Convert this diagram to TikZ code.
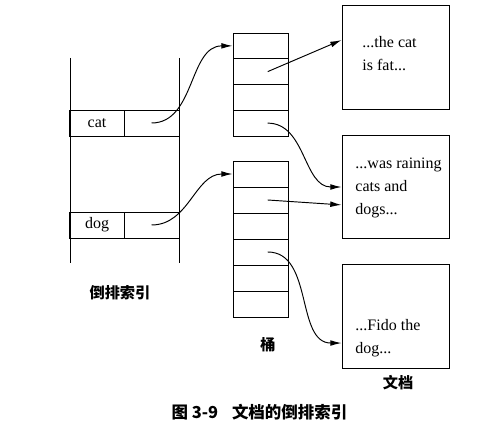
\documentclass[tikz,border=0pt]{standalone}
\usepackage{fontspec}
\setmainfont{Liberation Serif}
\newfontfamily\cjk{Noto Sans CJK SC}
\usetikzlibrary{arrows.meta}

\begin{document}
\begin{tikzpicture}
  [x=0.625pt,y=-0.625pt,line width=0.6pt,
   every node/.style={inner sep=0pt,font=\fontsize{10pt}{14.5pt}\selectfont},
   cell/.style={draw,minimum width=34.4pt,minimum height=16.25pt},
   doc/.style={draw,minimum width=66.9pt},
   label/.style={font=\cjk\bfseries\fontsize{9.5pt}{11pt}\selectfont},
   ptr/.style={-{Latex[length=7pt,width=3.6pt]}}]
  \useasboundingbox (0,0) rectangle (491,436);
  % inverted index
  \draw (70,58) -- (70,263);
  \draw (179,58) -- (179,263);
  \node[cell,minimum width=33.8pt] (catk) at (97,123) {cat};
  \node[cell] (catp) at (151.5,123) {};
  \node[cell,minimum width=33.8pt] (dogk) at (97,225) {dog};
  \node[cell] (dogp) at (151.5,225) {};
  % buckets
  \foreach \k in {1,...,4}
    \node[cell,minimum height=16.09pt] (b1-\k) at (260.5,{33+25.75*(\k-0.5)}) {};
  \foreach \k in {1,...,6}
    \node[cell] (b2-\k) at (260.5,{161+26*(\k-0.5)}) {};
  % documents
  \node[doc,minimum height=64.4pt] (d1) at (395.5,57.5) {};
  \node[doc,minimum height=63.8pt] (d2) at (395.5,187) {};
  \node[doc,minimum height=65pt] (d3) at (395.5,316) {};
  \node[anchor=base west,align=left] (t1) at (362,71) {...the cat\\is fat...};
  \node[anchor=base west,align=left] (t2) at (355,215) {...was raining\\cats and\\dogs...};
  \node[anchor=base west,align=left] (t3) at (355,354) {...Fido the\\dog...};
  % labels
  \node[label] (idx) at (120,293) {倒排索引};
  \node[label] (bkt) at (268,345) {桶};
  \node[label] (docs) at (398,383) {文档};
  \node[label,font=\cjk\bfseries\fontsize{10.3pt}{12pt}\selectfont] (cap) at (259.5,412) {图 3-9\hspace{8.6pt}文档的倒排索引};
  % pointer ends
  \foreach \b in {b1-2,b1-4,b2-2,b2-4}
    \coordinate (\b o) at ([xshift=4.5pt]\b.center);
  \coordinate (d1in) at ([yshift=10.9pt]d1.west);
  \coordinate (d2in) at ([yshift=-11.2pt]d2.west);
  \coordinate (d3in) at ([yshift=-16.9pt]d3.west);
  % pointers
  \foreach \from/\to in {catp.center/b1-1.west,dogp.center/b2-1.west,b1-4o/d2.west,b2-4o/d3in}
    \draw[ptr] (\from) to[out=0,in=180] (\to);
  \draw[ptr] (b1-2o) -- (d1in);
  \draw[ptr] (b2-2o) -- (d2in);
\end{tikzpicture}
\end{document}
